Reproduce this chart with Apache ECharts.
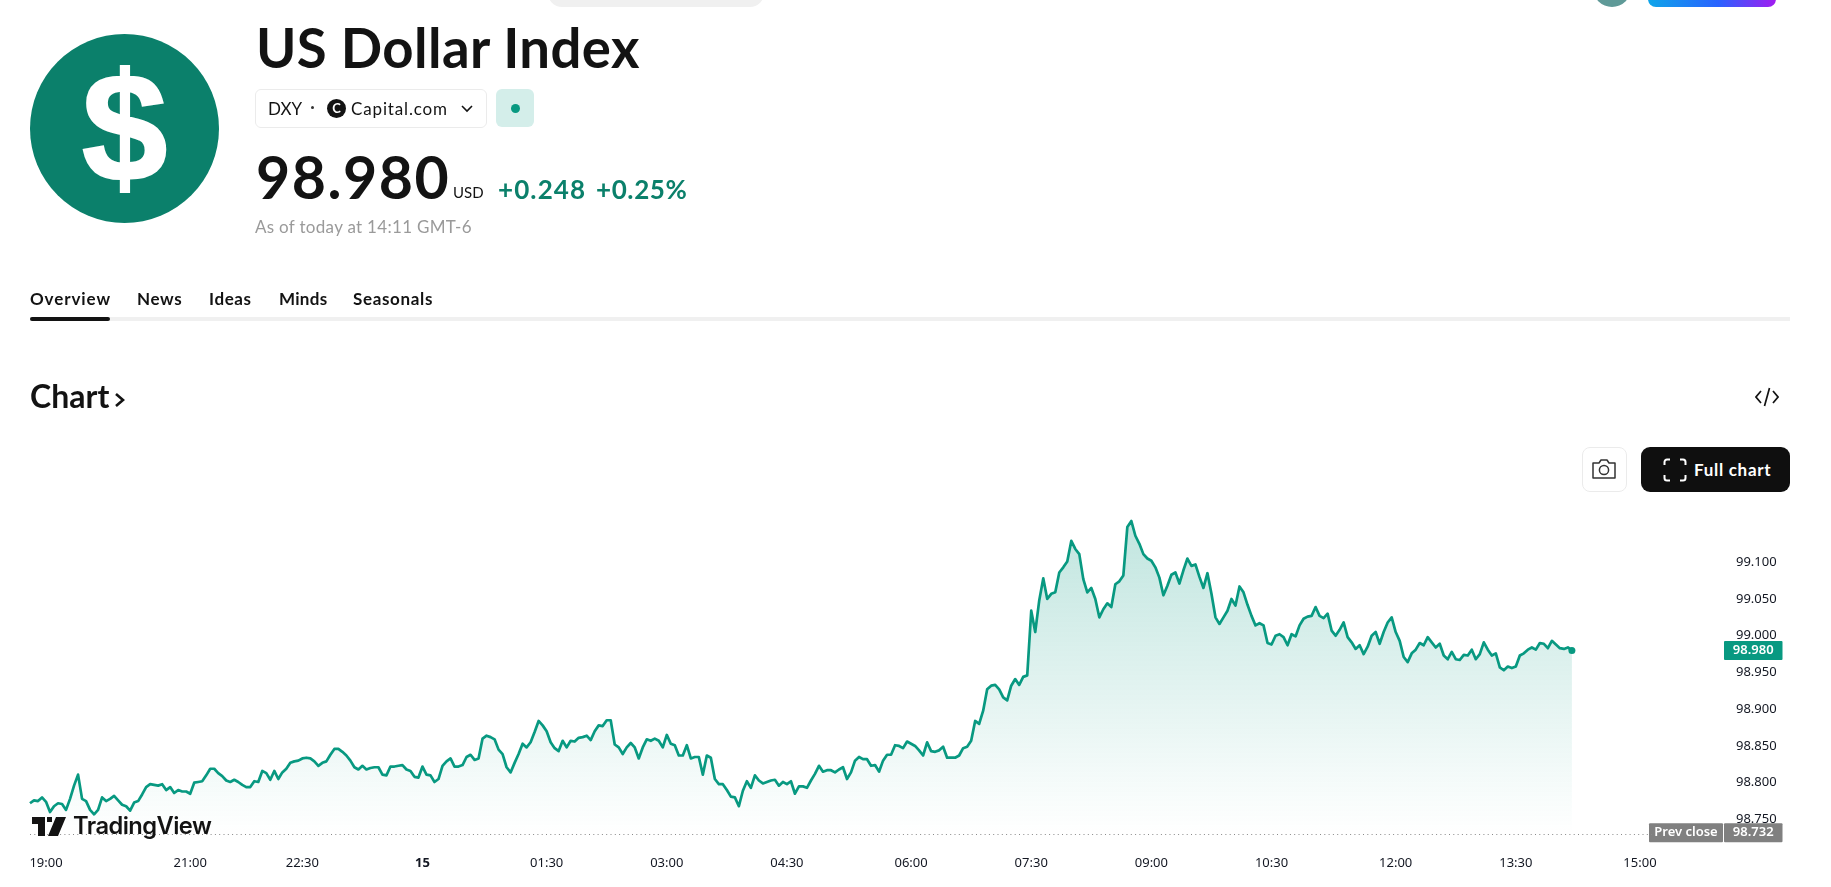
<!DOCTYPE html>
<html><head><meta charset="utf-8">
<style>
html,body{margin:0;padding:0;background:#fff;width:1831px;height:887px;overflow:hidden}
body{font-family:Lato,"Noto Sans",sans-serif;color:#131313;position:relative}
#chart{position:absolute;left:0;top:0;width:1831px;height:887px}
.a{position:absolute;white-space:nowrap;line-height:1}
</style></head><body>
<div id="chart"></div>

<div class="a" style="left:548px;top:-10px;width:216px;height:17px;background:#f0f0f0;border-radius:0 0 14px 14px"></div>
<div class="a" style="left:1593px;top:-12px;width:38px;height:19px;background:#5f9a98;border-radius:0 0 19px 19px"></div>
<div class="a" style="left:1648px;top:-10px;width:128px;height:17px;border-radius:0 0 8px 8px;background:linear-gradient(90deg,#0ea5e9,#2962ff 55%,#a21cf0)"></div>

<div class="a" style="left:30px;top:34px;width:189px;height:189px;border-radius:50%;background:#0b806b"></div>
<div class="a" style="left:30px;top:34px;width:189px;text-align:center;font:700 154px/189px 'Liberation Sans',sans-serif;color:#fff;-webkit-text-stroke:2px #fff">$</div>

<div class="a" id="title" style="left:256px;top:20px;font-size:54.500px;font-weight:700;letter-spacing:.4px">US Dollar Index</div>

<div class="a" style="left:255px;top:89px;width:230px;height:37px;border:1px solid #ebebeb;border-radius:6px"></div>
<div class="a" style="left:268px;top:100px;font-size:17px">DXY</div>
<div class="a" style="left:311px;top:106px;width:3px;height:3px;border-radius:50%;background:#333"></div>
<div class="a" style="left:327px;top:99px;width:19px;height:19px;border-radius:50%;background:#131313;color:#fff;font:700 13px/19px Lato;text-align:center">C</div>
<div class="a" style="left:351px;top:100px;font-size:17px;letter-spacing:.85px">Capital.com</div>
<svg class="a" style="left:461px;top:104px" width="12" height="9" viewBox="0 0 12 9"><path d="M1 2l5 5 5-5" fill="none" stroke="#131313" stroke-width="1.6"/></svg>
<div class="a" style="left:496px;top:89px;width:38px;height:38px;border-radius:6px;background:#d4eeea"></div>
<div class="a" style="left:511px;top:104px;width:9px;height:9px;border-radius:50%;background:#089981"></div>

<div class="a" style="left:256px;top:147px;font-size:59px;font-weight:700;letter-spacing:1.5px">98.980</div>
<div class="a" style="left:453px;top:185px;font-size:15px">USD</div>
<div class="a" style="left:498px;top:176px;font-size:26px;font-weight:700;color:#0b806b;letter-spacing:1.1px">+0.248</div>
<div class="a" style="left:596px;top:176px;font-size:26px;font-weight:700;color:#0b806b;letter-spacing:.6px">+0.25%</div>
<div class="a" style="left:255px;top:218px;font-size:17px;color:#9a9a9a;letter-spacing:.3px">As of today at 14:11 GMT-6</div>

<div class="a" style="left:30px;top:290px;font-size:17px;font-weight:700;letter-spacing:.9px">Overview</div>
<div class="a" style="left:137px;top:290px;font-size:17px;font-weight:700;letter-spacing:.6px">News</div>
<div class="a" style="left:209px;top:290px;font-size:17px;font-weight:700;letter-spacing:.6px">Ideas</div>
<div class="a" style="left:279px;top:290px;font-size:17px;font-weight:700;letter-spacing:.3px">Minds</div>
<div class="a" style="left:353px;top:290px;font-size:17px;font-weight:700;letter-spacing:.65px">Seasonals</div>
<div class="a" style="left:30px;top:317px;width:1760px;height:4px;background:#f0f0f0"></div>
<div class="a" style="left:30px;top:317px;width:80px;height:4px;background:#131313;border-radius:2px"></div>

<div class="a" style="left:30px;top:380px;font-size:32px;font-weight:700">Chart</div>
<svg class="a" style="left:114px;top:391px" width="12" height="18" viewBox="0 0 12 18"><path d="M2 3l7 6-7 6" fill="none" stroke="#131313" stroke-width="2.6"/></svg>
<svg class="a" style="left:1755px;top:387px" width="24" height="20" viewBox="0 0 24 20"><path d="M6 4l-5 6 5 6M18 4l5 6-5 6M14.5 1l-5 18" fill="none" stroke="#131313" stroke-width="1.7"/></svg>

<div class="a" style="left:1582px;top:447px;width:43px;height:43px;border:1px solid #ebebeb;border-radius:8px"></div>
<svg class="a" style="left:1591px;top:458px" width="26" height="22" viewBox="0 0 26 22"><path d="M2 5h6l2-3h6l2 3h6v15H2z" fill="none" stroke="#333" stroke-width="1.5" stroke-linejoin="round"/><circle cx="13" cy="12" r="4.6" fill="none" stroke="#333" stroke-width="1.5"/></svg>
<div class="a" style="left:1641px;top:447px;width:149px;height:45px;border-radius:9px;background:#0f0f0f"></div>
<svg class="a" style="left:1663px;top:458px" width="24" height="24" viewBox="0 0 24 24"><path d="M7 1.5H4A2.5 2.5 0 0 0 1.5 4v3M17 1.5h3A2.5 2.5 0 0 1 22.5 4v3M7 22.500H4A2.500 2.500 0 0 1 1.500 20v-3M17 22.500h3a2.500 2.500 0 0 0 2.500-2.500v-3" fill="none" stroke="#fff" stroke-width="2"/></svg>
<div class="a" style="left:1694px;top:461px;font-size:17px;font-weight:700;color:#fff;letter-spacing:.7px">Full chart</div>

<svg class="a" style="left:32px;top:817px" width="34" height="19" viewBox="0 0 34 19"><path d="M0 0h13v19H6V7H0zM15 0h5v5h-5zM24 0h10l-8 19H16z" fill="#131313"/></svg>
<div class="a" style="left:73px;top:813px;font:600 23.700px/1.1 Inter,sans-serif;color:#131313;letter-spacing:-.55px">TradingView</div>

<script src="https://cdn.jsdelivr.net/npm/echarts@6/dist/echarts.min.js"></script>
<script>
const values = [
98.772,98.776,98.775,98.780,98.774,98.760,98.768,98.772,98.771,98.763,98.778,98.796,98.811,98.778,98.775,98.763,98.757,98.763,98.780,98.775,98.778,98.782,98.776,98.770,98.768,98.762,98.773,98.775,98.784,98.794,98.798,98.797,98.796,98.798,98.790,98.794,98.786,98.790,98.788,98.788,98.785,98.800,98.801,98.802,98.810,98.819,98.819,98.813,98.809,98.803,98.801,98.804,98.801,98.797,98.794,98.794,98.802,98.801,98.816,98.813,98.804,98.816,98.805,98.814,
98.819,98.827,98.829,98.830,98.833,98.834,98.833,98.829,98.823,98.827,98.829,98.838,98.846,98.846,98.842,98.837,98.830,98.821,98.818,98.823,98.818,98.820,98.821,98.821,98.811,98.810,98.822,98.822,98.823,98.824,98.818,98.816,98.808,98.807,98.822,98.811,98.810,98.801,98.805,98.823,98.829,98.833,98.822,98.822,98.824,98.835,98.838,98.831,98.833,98.860,98.864,98.862,98.859,98.845,98.839,98.821,98.814,98.827,98.839,98.853,98.848,98.855,98.869,98.884,98.878,
98.870,98.855,98.847,98.843,98.857,98.848,98.857,98.856,98.861,98.862,98.864,98.858,98.870,98.878,98.877,98.885,98.885,98.852,98.848,98.839,98.848,98.854,98.848,98.833,98.848,98.859,98.857,98.860,98.857,98.848,98.865,98.853,98.851,98.837,98.837,98.851,98.833,98.835,98.835,98.811,98.837,98.834,98.805,98.798,98.798,98.790,98.781,98.780,98.768,98.789,98.802,98.793,98.810,98.803,98.799,98.801,98.803,98.804,98.796,98.801,98.798,98.802,98.785,98.795,98.795,
98.793,98.803,98.812,98.823,98.815,98.817,98.817,98.814,98.818,98.821,98.805,98.814,98.830,98.835,98.832,98.832,98.823,98.824,98.815,98.830,98.838,98.838,98.851,98.850,98.847,98.856,98.853,98.850,98.844,98.837,98.855,98.843,98.842,98.844,98.849,98.834,98.834,98.834,98.837,98.847,98.849,98.857,98.884,98.880,98.898,98.927,98.932,98.933,98.927,98.916,98.912,98.932,98.941,98.933,98.944,98.946,
99.034,99.005,99.048,99.078,99.050,99.057,99.059,99.086,99.093,99.101,99.129,99.118,99.111,99.077,99.059,99.065,99.050,99.025,99.036,99.044,99.039,99.070,99.074,99.082,99.148,99.156,99.136,99.125,99.111,99.105,99.102,99.093,99.079,99.055,99.068,99.083,99.086,99.071,99.089,99.105,99.095,99.097,99.080,99.065,99.085,99.057,99.025,99.016,99.025,99.034,99.050,99.041,99.067,99.059,99.042,99.027,99.014,99.017,99.014,98.990,98.988,99.000,99.002,98.998,98.987,99.002,98.999,
99.014,99.023,99.026,99.027,99.039,99.027,99.024,99.030,99.007,99.000,99.008,99.018,98.998,98.991,98.982,98.987,98.975,98.985,99.000,99.005,98.989,99.005,99.018,99.025,99.005,98.993,98.971,98.964,98.976,98.981,98.990,98.987,98.998,98.991,98.984,98.989,98.973,98.968,98.978,98.968,98.967,98.974,98.973,98.981,98.968,98.975,98.991,98.981,98.973,98.976,98.957,98.953,98.958,98.956,98.958,98.973,98.976,98.981,98.984,98.981,98.990,98.989,98.983,98.993,98.988,98.983,98.982,98.984,98.980
];
const tickIndexes = [4,40,68,98,129,159,189,220,250,280,310,341,371,402];
const tickLabels = ['19:00','21:00','22:30','15','01:30','03:00','04:30','06:00','07:30','09:00','10:30','12:00','13:30','15:00'];
const priceTicks = [98.75,98.8,98.85,98.9,98.95,99,99.05,99.1];
const lastPrice = 98.98;
const prevClose = 98.732;
const slotCount = 406;

const categories = Array.from({length:slotCount},(_,i)=>String(i));
const seriesData = categories.map((_,i)=> i<values.length ? values[i] : null);
const FONT = '"Noto Sans",sans-serif';
const chart = echarts.init(document.getElementById('chart'),null,{renderer:'canvas'});
chart.setOption({
  animation:false,
  grid:{left:30,right:179,top:488.7,height:367.5,containLabel:false},
  xAxis:{type:'category',data:categories,boundaryGap:false,
    axisLine:{show:false},axisTick:{show:false},splitLine:{show:false},
    axisLabel:{margin:1,fontFamily:FONT,fontSize:13,color:'#131722',hideOverlap:false,
      interval:(i)=>tickIndexes.includes(i),
      formatter:(v,i)=>{const k=tickIndexes.indexOf(i);if(k<0)return '';return tickLabels[k]==='15'?'{b|15}':tickLabels[k];},
      rich:{b:{fontFamily:FONT,fontSize:13,fontWeight:700,color:'#131722'}}}},
  yAxis:{type:'value',position:'right',min:98.7,max:99.2,interval:0.05,scale:true,
    axisLine:{show:false},axisTick:{show:false},splitLine:{show:false},
    axisLabel:{margin:84,align:'left',fontFamily:FONT,fontSize:13,color:'#131722',
      customValues:priceTicks,formatter:(v)=>v.toFixed(3)}},
  series:[{type:'line',data:seriesData,showSymbol:false,symbol:'none',smooth:false,connectNulls:false,
    lineStyle:{color:'#089981',width:2.7,join:'round'},
    areaStyle:{color:{type:'linear',x:0,y:0,x2:0,y2:1,colorStops:[
      {offset:0,color:'rgba(8,153,129,0.36)'},{offset:0.93,color:'rgba(8,153,129,0)'},{offset:1,color:'rgba(8,153,129,0)'}]}},
    markPoint:{symbol:'circle',symbolSize:7,itemStyle:{color:'#089981'},label:{show:false},animation:false,
      data:[{coord:[String(values.length-1),lastPrice]}]},
    markLine:{symbol:'none',silent:true,animation:false,label:{show:false},
      lineStyle:{color:'#8a8a8a',width:1,type:[1,3.3]},
      data:[{yAxis:prevClose}]}
  }]
});
const py = v => chart.convertToPixel({yAxisIndex:0},v);
function tag(x,w,y,text,fill){
  return {type:'group',z:50,children:[
    {type:'rect',shape:{x:x,y:y-9.5,width:w,height:19,r:1},style:{fill:fill}},
    {type:'text',style:{x:x+w/2,y:y,text:text,fill:'#fff',font:'600 13px "Noto Sans",sans-serif',align:'center',verticalAlign:'middle'}}
  ]};
}
chart.setOption({graphic:[
  tag(1724,58.5,py(lastPrice),lastPrice.toFixed(3),'#089981'),
  tag(1649,74,py(prevClose),'Prev close','#808080'),
  tag(1724,58.5,py(prevClose),prevClose.toFixed(3),'#808080')
]});
</script>
</body></html>
